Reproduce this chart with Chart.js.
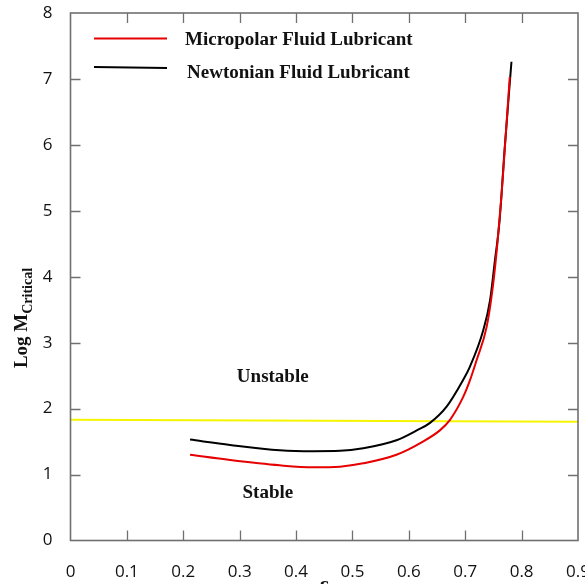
<!DOCTYPE html>
<html>
<head>
<meta charset="utf-8">
<script src="https://cdn.jsdelivr.net/npm/chart.js@4.4.1/dist/chart.umd.min.js"></script>
<style>
  html, body { margin: 0; padding: 0; background: #fff; }
  #wrap { width: 585px; height: 584px; }
</style>
</head>
<body>
<div id="wrap"><canvas id="chart"></canvas></div>
<script>
// ---------- DATA ----------
const xTicks = [0, 0.1, 0.2, 0.3, 0.4, 0.5, 0.6, 0.7, 0.8, 0.9];
const yTicks = [0, 1, 2, 3, 4, 5, 6, 7, 8];

const microX = [0.212, 0.283, 0.371, 0.430, 0.478, 0.519, 0.578, 0.625, 0.655, 0.673, 0.696, 0.708, 0.720, 0.738, 0.749, 0.757, 0.764, 0.770, 0.779];
const microY = [1.30, 1.22, 1.14, 1.11, 1.12, 1.17, 1.30, 1.50, 1.67, 1.83, 2.17, 2.42, 2.73, 3.24, 3.85, 4.50, 5.20, 5.92, 7.03];

const newtX = [0.212, 0.283, 0.371, 0.430, 0.478, 0.519, 0.578, 0.614, 0.637, 0.667, 0.696, 0.708, 0.732, 0.744, 0.752, 0.761, 0.770, 0.782];
const newtY = [1.53, 1.45, 1.37, 1.355, 1.36, 1.40, 1.52, 1.67, 1.78, 2.03, 2.43, 2.63, 3.19, 3.64, 4.20, 4.86, 5.95, 7.26];

const limitX = [0, 0.9];
const limitY = [1.83, 1.80];

const seriesNames = ['Micropolar Fluid Lubricant', 'Newtonian Fluid Lubricant'];
const regionLabels = [
  { text: 'Unstable', x: 0.295, y: 2.40 },
  { text: 'Stable',   x: 0.305, y: 0.64 }
];

const pts = (xs, ys) => xs.map((x, i) => ({ x: x, y: ys[i] }));

const AXIS_COLOR = '#707070';
const SERIF_BOLD = 'bold 19px "Liberation Serif", "DejaVu Serif", serif';

// ---------- frame, inward ticks, legend, labels ----------
const decorPlugin = {
  id: 'decor',
  afterDatasetsDraw(chart) {
    const { ctx, chartArea: a, scales: { x, y } } = chart;
    ctx.save();

    // box
    ctx.strokeStyle = AXIS_COLOR;
    ctx.lineWidth = 1.6;
    ctx.strokeRect(a.left, a.top, a.right - a.left, a.bottom - a.top);

    // inward ticks on all four sides
    const tl = 10;
    ctx.lineWidth = 1.3;
    ctx.beginPath();
    xTicks.slice(1, -1).forEach(v => {
      const px = Math.round(x.getPixelForValue(v)) + 0.5;
      ctx.moveTo(px, a.bottom); ctx.lineTo(px, a.bottom - tl);
      ctx.moveTo(px, a.top);    ctx.lineTo(px, a.top + tl);
    });
    yTicks.slice(1, -1).forEach(v => {
      const py = Math.round(y.getPixelForValue(v)) + 0.5;
      ctx.moveTo(a.left, py);  ctx.lineTo(a.left + tl, py);
      ctx.moveTo(a.right, py); ctx.lineTo(a.right - tl, py);
    });
    ctx.stroke();

    // legend
    const colors = [chart.data.datasets[0].borderColor, chart.data.datasets[1].borderColor];
    const rows = [38.5, 67];
    ctx.font = SERIF_BOLD;
    ctx.textBaseline = 'alphabetic';
    rows.forEach((ry, i) => {
      ctx.strokeStyle = colors[i];
      ctx.lineWidth = 2;
      ctx.beginPath();
      ctx.moveTo(94, ry); ctx.lineTo(167, ry + (i ? 1 : 0));
      ctx.stroke();
      ctx.fillStyle = '#111';
      ctx.fillText(seriesNames[i], 185 + i * 2, ry + 6.5 + i * 4);
    });

    // region labels
    regionLabels.forEach(l => {
      ctx.fillText(l.text, x.getPixelForValue(l.x), y.getPixelForValue(l.y));
    });

    // y title: Log M_Critical
    ctx.save();
    ctx.translate(27, 318);
    ctx.rotate(-Math.PI / 2);
    const mainFont = 'bold 19px "Liberation Serif", serif';
    const subFont = 'bold 14px "Liberation Serif", serif';
    ctx.font = mainFont;
    const w1 = ctx.measureText('Log M').width;
    ctx.font = subFont;
    const w2 = ctx.measureText('Critical').width;
    const start = -(w1 + w2) / 2;
    ctx.font = mainFont;
    ctx.fillText('Log M', start, 0);
    ctx.font = subFont;
    ctx.fillText('Critical', start + w1, 5);
    ctx.restore();

    // x title (cut by the bottom edge)
    ctx.font = 'bold 21px "Liberation Serif", serif';
    ctx.textAlign = 'center';
    ctx.fillText('\u03b5', x.getPixelForValue(0.45), 591);

    ctx.restore();
  }
};

const ctx = document.getElementById('chart');
new Chart(ctx, {
  type: 'scatter',
  data: {
    datasets: [
      {
        label: seriesNames[0],
        data: pts(microX, microY),
        showLine: true,
        borderColor: '#e60000',
        borderWidth: 2,
        pointRadius: 0,
        cubicInterpolationMode: 'monotone'
      },
      {
        label: seriesNames[1],
        data: pts(newtX, newtY),
        showLine: true,
        borderColor: '#000000',
        borderWidth: 2,
        pointRadius: 0,
        cubicInterpolationMode: 'monotone'
      },
      {
        label: 'limit',
        data: pts(limitX, limitY),
        showLine: true,
        borderColor: '#f5f500',
        borderWidth: 2,
        pointRadius: 0
      }
    ]
  },
  options: {
    responsive: true,
    maintainAspectRatio: false,
    animation: false,
    events: [],
    layout: { padding: { top: 13, right: 7, left: 0, bottom: 0 } },
    plugins: {
      legend: { display: false },
      tooltip: { enabled: false }
    },
    scales: {
      x: {
        type: 'linear',
        min: 0, max: 0.9,
        border: { display: false },
        grid: { display: false },
        afterBuildTicks: s => { s.ticks = xTicks.map(v => ({ value: v })); },
        afterFit: s => { s.height = 43.5; s.paddingLeft = 0; s.paddingRight = 0; },
        ticks: {
          padding: 13,
          color: '#111',
          font: { family: '"Open Sans", sans-serif', size: 17 },
          maxRotation: 0,
          autoSkip: false,
          callback: v => String(v)
        }
      },
      y: {
        type: 'linear',
        min: 0, max: 8,
        border: { display: false },
        grid: { display: false },
        afterBuildTicks: s => { s.ticks = yTicks.map(v => ({ value: v })); },
        afterFit: s => { s.width = 70.5; s.paddingTop = 0; s.paddingBottom = 0; },
        ticks: {
          padding: 10,
          color: '#111',
          font: { family: '"Open Sans", sans-serif', size: 17 },
          callback: v => String(v)
        }
      }
    }
  },
  plugins: [decorPlugin]
});
</script>
</body>
</html>
